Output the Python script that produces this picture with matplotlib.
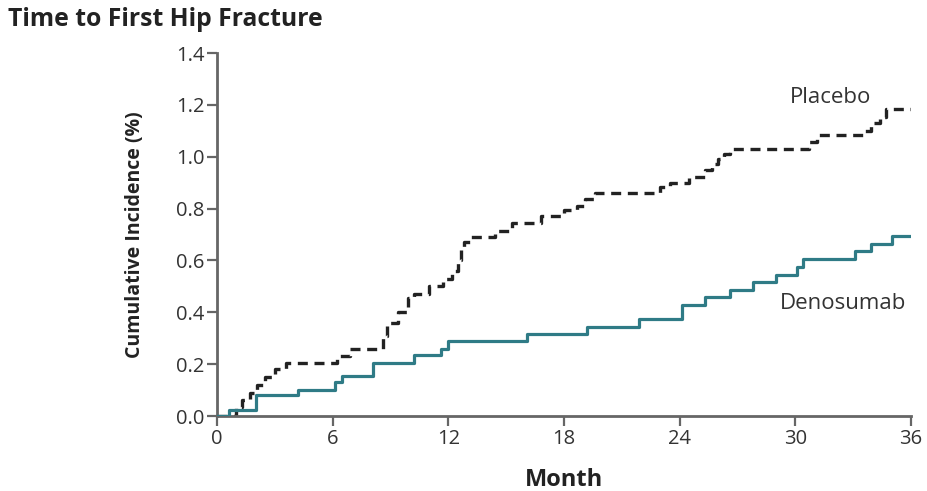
import matplotlib
matplotlib.use("Agg")
import matplotlib.pyplot as plt

plt.rcParams['font.family'] = ['Open Sans', 'DejaVu Sans']

placebo_t = [0, 1.0, 1.3, 1.7, 2.1, 2.5, 3.0, 3.6, 6.2, 6.9, 8.6, 8.8, 9.4, 9.9, 10.2,
             11.0, 11.7, 12.2, 12.5, 12.65, 12.8, 13.1, 14.4, 15.3, 16.8, 18.0, 18.7,
             19.1, 19.6, 23.0, 23.5, 24.5, 25.3, 25.7, 26.0, 26.3, 26.6, 30.7, 31.1,
             33.5, 33.9, 34.4, 34.7, 36]
placebo_v = [0, 0.035, 0.06, 0.09, 0.12, 0.15, 0.18, 0.205, 0.23, 0.26, 0.31, 0.36, 0.40,
             0.455, 0.47, 0.50, 0.53, 0.56, 0.60, 0.64, 0.67, 0.69, 0.715, 0.745, 0.77,
             0.795, 0.81, 0.835, 0.86, 0.885, 0.90, 0.92, 0.95, 0.97, 0.99, 1.01, 1.03,
             1.057, 1.085, 1.10, 1.13, 1.155, 1.185, 1.185]

deno_t = [0, 0.6, 2.0, 4.2, 6.1, 6.5, 8.1, 10.2, 11.6, 12.0, 16.1, 19.2, 21.9, 24.1,
          25.3, 26.6, 27.8, 29.0, 30.1, 30.4, 33.1, 33.9, 35.0, 36]
deno_v = [0, 0.025, 0.08, 0.10, 0.13, 0.155, 0.205, 0.235, 0.26, 0.29, 0.315, 0.345,
          0.375, 0.43, 0.46, 0.485, 0.515, 0.545, 0.575, 0.605, 0.635, 0.665, 0.695, 0.695]

x_ticks = [0, 6, 12, 18, 24, 30, 36]
y_ticks = [0.0, 0.2, 0.4, 0.6, 0.8, 1.0, 1.2, 1.4]

fig = plt.figure(figsize=(9.28, 4.91), dpi=100)
ax = fig.add_axes([217/928, 1-416/491, (911-217)/928, (416-53)/491])

ax.step(deno_t, deno_v, where='post', color='#2f7b86', lw=2.3, zorder=3)
ax.step(placebo_t, placebo_v, where='post', color='#222222', lw=2.4,
        linestyle=(0, (3.0, 2.0)), zorder=2)

ax.set_xlim(0, 36)
ax.set_ylim(0, 1.4)
ax.set_xticks(x_ticks)
ax.set_xticklabels([str(t) for t in x_ticks])
ax.set_yticks(y_ticks)
ax.set_yticklabels([f"{v:.1f}" for v in y_ticks])

for s in ['top', 'right']:
    ax.spines[s].set_visible(False)
for s in ['left', 'bottom']:
    ax.spines[s].set_color('#666666')
    ax.spines[s].set_linewidth(2.0)
ax.tick_params(axis='both', direction='out', length=7, width=1.6, color='#666666',
               labelsize=14.5, labelcolor='#333333', pad=2)

ax.set_xlabel('Month', fontsize=17, fontweight='bold', color='#222222', labelpad=14)
ax.set_ylabel('Cumulative Incidence (%)', fontsize=14, fontweight='bold',
              color='#222222', labelpad=22)

ax.text(29.7, 1.23, 'Placebo', fontsize=16, color='#333333', ha='left', va='center')
ax.text(29.2, 0.435, 'Denosumab', fontsize=16, color='#333333', ha='left', va='center')

fig.text(8/928, 1-20/491, 'Time to First Hip Fracture', fontsize=17.8,
         fontweight='bold', color='#222222', ha='left', va='center')

fig.savefig('out.png', dpi=100, facecolor='white')
